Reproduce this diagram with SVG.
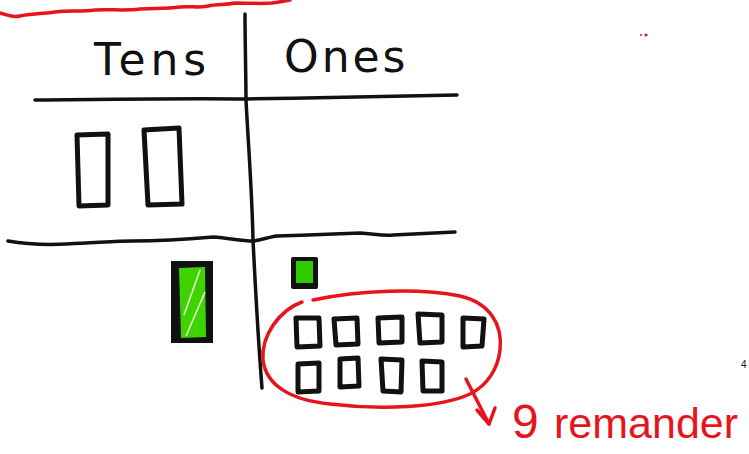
<svg xmlns="http://www.w3.org/2000/svg" width="749" height="454" viewBox="0 0 749 454">
<style>
.ink{fill:none;stroke:#111;stroke-width:3.5;stroke-linecap:round;stroke-linejoin:round}
.blk{fill:none;stroke:#111;stroke-width:5;stroke-linecap:round;stroke-linejoin:round}
.red{fill:none;stroke:#e8141c;stroke-width:3.5;stroke-linecap:round;stroke-linejoin:round}
.hand{font-family:"DejaVu Sans","Liberation Sans",sans-serif;font-weight:normal}
.lab{font-family:"Liberation Sans",Arial,sans-serif;font-weight:normal}
</style>
<rect width="749" height="454" fill="#ffffff"/>
<g id="red-top-line">
<path class="red" stroke-width="4" d="M0,13 C8,15 12,18 20,16 C30,14 40,14 55,12 C70,10 80,12 95,10 C110,9 125,11 140,9 C155,8 165,9 180,7 C192,6 198,8 208,6 C218,4 225,5 235,3 C250,3 262,4 272,3 C280,2 285,1 290,0"/>
</g>
<g id="grid">
<path class="ink" d="M245,14 C245,40 246,80 246,100 C248,140 252,190 253,240 C256,300 259,350 262,388"/>
<path class="ink" d="M35,100 C120,99 200,98 246,99 C320,98 400,96 457,95"/>
<path class="ink" d="M8,241 C25,244 45,245 67,244 C95,243 115,241 133,241 C165,241 190,239 213,237 C230,238 240,241 253,241 C262,240 268,237 277,236 C305,235 335,234 360,233 C375,234 383,236 393,235 C415,234 435,233 455,232"/>
</g>
<g id="header-tens">
<text class="hand" x="94" y="75" font-size="44" letter-spacing="5" fill="#111">Tens</text>
</g>
<g id="header-ones">
<text class="hand" x="284" y="72" font-size="44" letter-spacing="3" fill="#111">Ones</text>
</g>
<g id="tens-rods">
<path class="blk" d="M77,135 L108,134 L108,205 L79,206 Z"/>
<path class="blk" d="M144,130 L179,128 L182,204 L148,205 Z"/>
</g>
<g id="green-rod">
<rect x="171" y="261" width="42" height="82" fill="#111"/>
<path d="M179,268 L205,267 L206,337 L181,338 Z" fill="#3fd400"/>
<path d="M184,315 L200,270 M186,336 L205,292" stroke="#e8ffe0" stroke-width="1.5" fill="none"/>
</g>
<g id="green-unit">
<rect x="291" y="257" width="27" height="32" fill="#111" rx="2"/>
<rect x="296" y="261" width="17" height="22" fill="#2ecc00"/>
</g>
<g id="ones-units">
<path class="blk" d="M296,318 L319,318 L320,346 L297,347 Z"/>
<path class="blk" d="M334,319 L357,318 L358,344 L336,345 Z"/>
<path class="blk" d="M378,318 L402,317 L402,342 L379,343 Z"/>
<path class="blk" d="M418,314 L442,315 L442,342 L420,343 Z"/>
<path class="blk" d="M463,318 L484,319 L482,346 L463,347 Z"/>
<path class="blk" d="M298,364 L319,363 L319,391 L298,392 Z"/>
<path class="blk" d="M340,359 L358,358 L359,386 L340,387 Z"/>
<path class="blk" d="M381,359 L402,360 L401,392 L383,391 Z"/>
<path class="blk" d="M422,361 L442,362 L442,391 L423,391 Z"/>
</g>
<g id="remainder-loop">
<path class="red" d="M313,300 C360,290 420,288 460,296 C490,303 503,325 500,350 C498,368 488,385 470,394 C440,408 380,410 330,404 C290,400 266,385 263,360 C261,335 280,310 302,302"/>
<path class="red" d="M466,379 L489,424"/>
<path class="red" d="M477,410 L489,424 L495,408"/>
</g>
<g id="remainder-label">
<text class="lab" x="512" y="438" font-size="48" fill="#e8141c">9</text>
<text class="lab" x="554" y="438" font-size="43" fill="#e8141c">remander</text>
</g>
<g id="marks">
<text x="741" y="368" font-family="Liberation Sans, sans-serif" font-size="10" fill="#111">4</text>
<circle cx="646" cy="35" r="1.6" fill="#e8141c"/>
<circle cx="641" cy="35" r="1" fill="#e8141c"/>
</g>
</svg>
